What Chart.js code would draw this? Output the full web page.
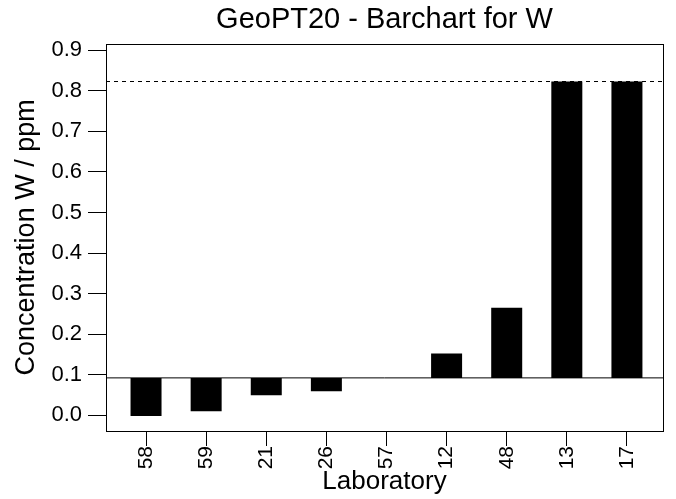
<!DOCTYPE html>
<html>
<head>
<meta charset="utf-8">
<script src="https://cdn.jsdelivr.net/npm/chart.js@4/dist/chart.umd.min.js"></script>
<style>
  html, body { margin: 0; padding: 0; background: #fff; }
  #wrap { width: 676px; height: 499px; }
</style>
</head>
<body>
<div id="wrap"><canvas id="barChart" width="676" height="499"></canvas></div>
<script>
// Lab data
const labs = ['58', '59', '21', '26', '57', '12', '48', '13', '17'];
const labValues = [-0.002, 0.010, 0.049, 0.059, 0.092, 0.152, 0.265, 0.823, 0.823];
const assignedValue = 0.092;   // solid reference line, bars start here
const upperLine = 0.823;       // dashed line
const yTicks = [0.0, 0.1, 0.2, 0.3, 0.4, 0.5, 0.6, 0.7, 0.8, 0.9];

const xMin = -0.666, xMax = 8.6;
const yMin = -0.039, yMax = 0.916;
const FONT = 'Liberation Sans, Arial, sans-serif';

// frame around the plot area
const boxPlugin = {
    id: 'box',
    afterDraw(chart) {
        const a = chart.chartArea;
        const ctx = chart.ctx;
        ctx.save();
        ctx.strokeStyle = '#000';
        ctx.lineWidth = 1;
        ctx.strokeRect(Math.round(a.left) + 0.5, Math.round(a.top) + 0.5,
            Math.round(a.right - a.left), Math.round(a.bottom - a.top));
        ctx.restore();
    }
};

const ctx = document.getElementById('barChart').getContext('2d');
new Chart(ctx, {
    type: 'bar',
    data: {
        datasets: [
            {
                type: 'line',
                data: [{ x: xMin, y: upperLine }, { x: xMax, y: upperLine }],
                borderColor: '#000',
                borderWidth: 1,
                borderDash: [4, 4],
                pointRadius: 0,
                order: 3
            },
            {
                type: 'bar',
                data: labs.map((l, i) => ({ x: i, y: [assignedValue, labValues[i]] })),
                backgroundColor: '#000',
                borderWidth: 0,
                inflateAmount: 0,
                barThickness: 31,
                order: 2
            },
            {
                type: 'line',
                data: [{ x: xMin, y: assignedValue }, { x: xMax, y: assignedValue }],
                borderColor: '#000',
                borderWidth: 1,
                pointRadius: 0,
                order: 1
            }
        ]
    },
    options: {
        responsive: false,
        animation: false,
        layout: { padding: { left: 0, right: 13, top: 0, bottom: 0 } },
        plugins: {
            legend: { display: false },
            tooltip: { enabled: false },
            title: {
                display: true,
                fullSize: false,
                text: 'GeoPT20 - Barchart for W',
                color: '#000',
                font: { family: FONT, size: 29, weight: 'normal' },
                padding: { top: 3, bottom: 6 }
            }
        },
        scales: {
            x: {
                type: 'linear',
                min: xMin,
                max: xMax,
                offset: false,
                afterBuildTicks(scale) {
                    scale.ticks = labs.map((l, i) => ({ value: i }));
                },
                afterFit(scale) { scale.height = 68; },
                ticks: {
                    color: '#000',
                    font: { family: FONT, size: 21 },
                    minRotation: 90,
                    maxRotation: 90,
                    padding: 0,
                    callback: (v) => labs[v]
                },
                grid: {
                    offset: false,
                    drawOnChartArea: false,
                    tickLength: 15,
                    tickColor: '#000',
                    color: '#000'
                },
                border: { display: false },
                title: {
                    display: true,
                    text: 'Laboratory',
                    color: '#000',
                    font: { family: FONT, size: 26 },
                    padding: { top: 0, bottom: 2 }
                }
            },
            y: {
                min: yMin,
                max: yMax,
                afterBuildTicks(scale) {
                    scale.ticks = yTicks.map(v => ({ value: v }));
                },
                afterFit(scale) { scale.width = 106; },
                ticks: {
                    color: '#000',
                    font: { family: FONT, size: 22 },
                    padding: 6,
                    callback: (v) => Number(v).toFixed(1)
                },
                grid: {
                    drawOnChartArea: false,
                    tickLength: 18,
                    tickColor: '#000',
                    color: '#000'
                },
                border: { display: false },
                title: {
                    display: true,
                    text: 'Concentration W / ppm',
                    color: '#000',
                    font: { family: FONT, size: 27 },
                    padding: { top: 10, bottom: 0 }
                }
            }
        }
    },
    plugins: [boxPlugin]
});
</script>
</body>
</html>
